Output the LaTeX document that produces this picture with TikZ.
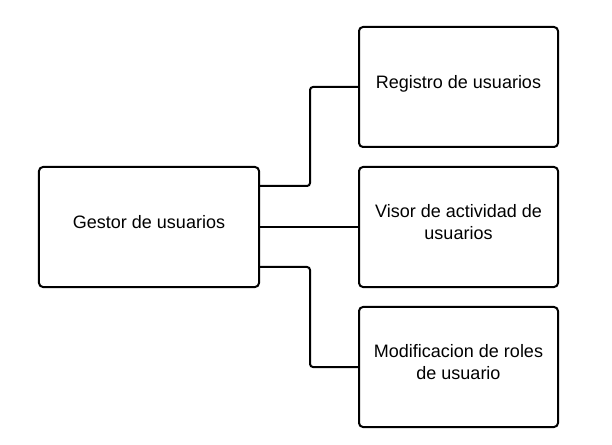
\documentclass[tikz,border=0pt]{standalone}
\usepackage{fontspec}
\setmainfont{Liberation Sans}
\begin{document}
\begin{tikzpicture}[x=1bp,y=-1bp,
  box/.style={draw=black, line width=2bp, rounded corners=4bp, fill=white, align=center, text depth=10bp, font=\fontsize{18bp}{22.5bp}\selectfont},
  conn/.style={draw=black, line width=2bp, rounded corners=3bp}]
\useasboundingbox[fill=white] (0,0) rectangle (612,445);
\node[box, minimum width=220bp, minimum height=120bp] (g) at (149,227) {Gestor de usuarios};
\node[box, minimum width=199bp, minimum height=120bp] (r) at (458.5,87) {Registro de usuarios};
\node[box, minimum width=199bp, minimum height=120bp] (v) at (458.5,227) {Visor de actividad de\\usuarios};
\node[box, minimum width=199bp, minimum height=120bp] (m) at (458.5,367) {Modificacion de roles\\de usuario};
\coordinate (j) at (310,0);
\draw[conn] (g.east |- 0,186) -| (j |- 0,130) |- (r.west);
\draw[conn] (g.east) -- (v.west);
\draw[conn] (g.east |- 0,267) -| (j |- 0,320) |- (m.west);
\end{tikzpicture}
\end{document}
